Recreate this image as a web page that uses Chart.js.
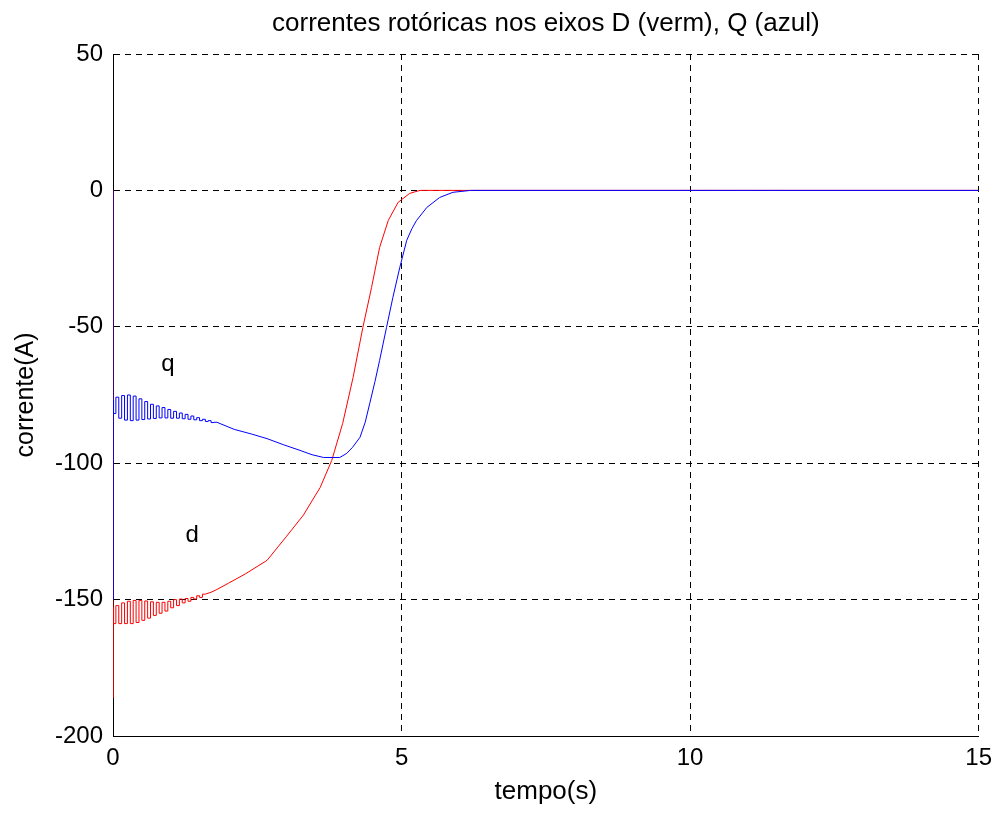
<!DOCTYPE html>
<html>
<head>
<meta charset="utf-8">
<script src="https://cdn.jsdelivr.net/npm/chart.js@4/dist/chart.umd.min.js"></script>
<style>
  html, body { margin: 0; padding: 0; background: #fff; }
  #wrap { width: 1000px; height: 814px; }
</style>
</head>
<body>
<div id="wrap"><canvas id="c" width="1000" height="814"></canvas></div>
<script>
// Rotor currents on the q axis (blue) and d axis (red), in amperes, over time in seconds
const qTime = [0, 0.002, 0.01, 0.05, 0.10, 0.15, 0.20, 0.25, 0.30, 0.35, 0.40, 0.45, 0.50, 0.55,
  0.60, 0.65, 0.70, 0.75, 0.80, 0.85, 0.90, 0.95, 1.00, 1.05, 1.10, 1.15, 1.20, 1.25, 1.30, 1.35,
  1.40, 1.45, 1.50, 1.55, 1.60, 1.65, 1.70, 1.75, 1.80, 2.10, 2.40, 2.67, 2.95, 3.24, 3.45, 3.65,
  3.93, 4.05, 4.15, 4.28, 4.37, 4.45, 4.54, 4.62, 4.74, 4.85, 4.97, 5.09, 5.18, 5.26, 5.44, 5.66,
  5.89, 6.20, 15];
const qCurrent = [0, -150, -77.0, -81.8, -75.8, -83.5, -75.2, -84.2, -75.0, -84.4, -75.4, -84.2, -76.4, -84.0,
  -77.4, -83.8, -78.4, -83.6, -79.0, -83.4, -79.6, -83.4, -80.3, -83.5, -81.0, -83.5, -81.6, -83.7, -82.1, -83.9,
  -82.7, -84.1, -83.3, -84.4, -83.9, -84.7, -84.4, -85.1, -85.0, -87.6, -89.3, -91.0, -93.2, -95.3, -96.9, -97.9,
  -97.9, -96.4, -94.2, -90.5, -85.0, -78.0, -70.0, -62.3, -50.2, -39.2, -28.2, -18.3, -14.0, -11.0, -6.2, -2.6,
  -0.7, 0, 0];
// samples up to this index are held between steps (sampled start-up ripple)
const qRippleEnd = 38;

const dTime = [0, 0.002, 0.01, 0.05, 0.10, 0.15, 0.20, 0.25, 0.30, 0.35, 0.40, 0.45, 0.50, 0.55,
  0.60, 0.65, 0.70, 0.75, 0.80, 0.85, 0.90, 0.95, 1.00, 1.05, 1.10, 1.15, 1.20, 1.25, 1.30, 1.35,
  1.40, 1.45, 1.50, 1.55, 1.60, 1.70, 1.80, 2.00, 2.30, 2.67, 3.00, 3.30, 3.50, 3.59, 3.79, 3.98,
  4.16, 4.33, 4.48, 4.62, 4.77, 4.94, 5.14, 5.32, 15];
const dCurrent = [0, -186, -153.0, -158.8, -152.2, -158.8, -151.2, -158.8, -150.6, -158.8, -150.3, -158.4, -150.3, -157.6,
  -150.5, -156.8, -150.8, -155.8, -151.0, -155.0, -151.0, -154.2, -150.6, -153.0, -150.0, -152.2, -149.8, -151.2, -149.6, -150.6,
  -149.2, -149.8, -148.6, -149.2, -148.0, -147.3, -146.3, -144.0, -140.5, -135.6, -127.0, -119.0, -112.0, -108.9, -99.0, -85.4,
  -68.6, -50.2, -35.6, -20.9, -11.0, -4.4, -1.1, 0, 0];
const dRippleEnd = 34;

const timeTicks = [0, 5, 10, 15];
const currentTicks = [-200, -150, -100, -50, 0, 50];

// In-plot curve labels: text, time (s), current (A)
const curveLabels = [
  { text: 'q', t: 0.95, i: -66.2 },
  { text: 'd', t: 1.37, i: -129 }
];

const FONT = "'Liberation Sans', Arial, Helvetica, sans-serif";
const BLUE = '#0000ff';
const RED = '#ff0000';

function pairs(xs, ys, from, to) {
  const out = [];
  for (let k = from; k < to; k++) out.push({ x: xs[k], y: ys[k] });
  return out;
}

const curveLabelPlugin = {
  id: 'curveLabels',
  afterDatasetsDraw(chart) {
    const { ctx, scales } = chart;
    ctx.save();
    ctx.fillStyle = '#000';
    ctx.font = '24px ' + FONT;
    ctx.textAlign = 'center';
    ctx.textBaseline = 'alphabetic';
    curveLabels.forEach(l => {
      ctx.fillText(l.text, scales.x.getPixelForValue(l.t), scales.y.getPixelForValue(l.i));
    });
    ctx.restore();
  }
};

new Chart(document.getElementById('c'), {
  type: 'line',
  data: {
    datasets: [
      { label: 'Q', data: pairs(qTime, qCurrent, 0, qRippleEnd + 1), stepped: 'after',
        borderColor: BLUE, borderWidth: 1, order: 0 },
      { label: 'Q', data: pairs(qTime, qCurrent, qRippleEnd, qTime.length),
        borderColor: BLUE, borderWidth: 1, order: 1 },
      { label: 'D', data: pairs(dTime, dCurrent, 0, dRippleEnd + 1), stepped: 'after',
        borderColor: RED, borderWidth: 1, order: 2 },
      { label: 'D', data: pairs(dTime, dCurrent, dRippleEnd, dTime.length),
        borderColor: RED, borderWidth: 1, order: 3 }
    ]
  },
  options: {
    responsive: false,
    animation: false,
    parsing: false,
    normalized: true,
    elements: { point: { radius: 0 }, line: { tension: 0, fill: false } },
    layout: { padding: { left: 0, right: 21, top: 0, bottom: 0 } },
    plugins: {
      legend: { display: false },
      tooltip: { enabled: false },
      title: {
        display: true,
        fullSize: false,
        text: 'correntes rotóricas nos eixos D (verm), Q (azul)',
        color: '#000',
        font: { family: FONT, size: 26, weight: 'normal' },
        padding: { top: 8, bottom: 14.8 }
      }
    },
    scales: {
      x: {
        type: 'linear',
        min: 0, max: 15,
        afterFit(s) { s.height = 78; },
        afterBuildTicks(s) { s.ticks = timeTicks.map(v => ({ value: v })); },
        ticks: { color: '#000', font: { family: FONT, size: 24 }, padding: 8, maxRotation: 0 },
        grid: { color: '#000', lineWidth: 1, drawTicks: false },
        border: { display: true, color: '#000', width: 1, dash: [6, 5] },
        title: {
          display: true, text: 'tempo(s)', color: '#000',
          font: { family: FONT, size: 26 }, padding: { top: 0, bottom: 7 }
        }
      },
      y: {
        type: 'linear',
        min: -200, max: 50,
        afterFit(s) { s.width = 113; },
        afterBuildTicks(s) { s.ticks = currentTicks.map(v => ({ value: v })); },
        ticks: { color: '#000', font: { family: FONT, size: 24 }, padding: 10 },
        grid: { color: '#000', lineWidth: 1, drawTicks: false },
        border: { display: true, color: '#000', width: 1, dash: [6, 5] },
        title: {
          display: true, text: 'corrente(A)', color: '#000',
          font: { family: FONT, size: 25 }, padding: { top: 11, bottom: 0 }
        }
      }
    }
  },
  plugins: [curveLabelPlugin]
});
</script>
</body>
</html>
